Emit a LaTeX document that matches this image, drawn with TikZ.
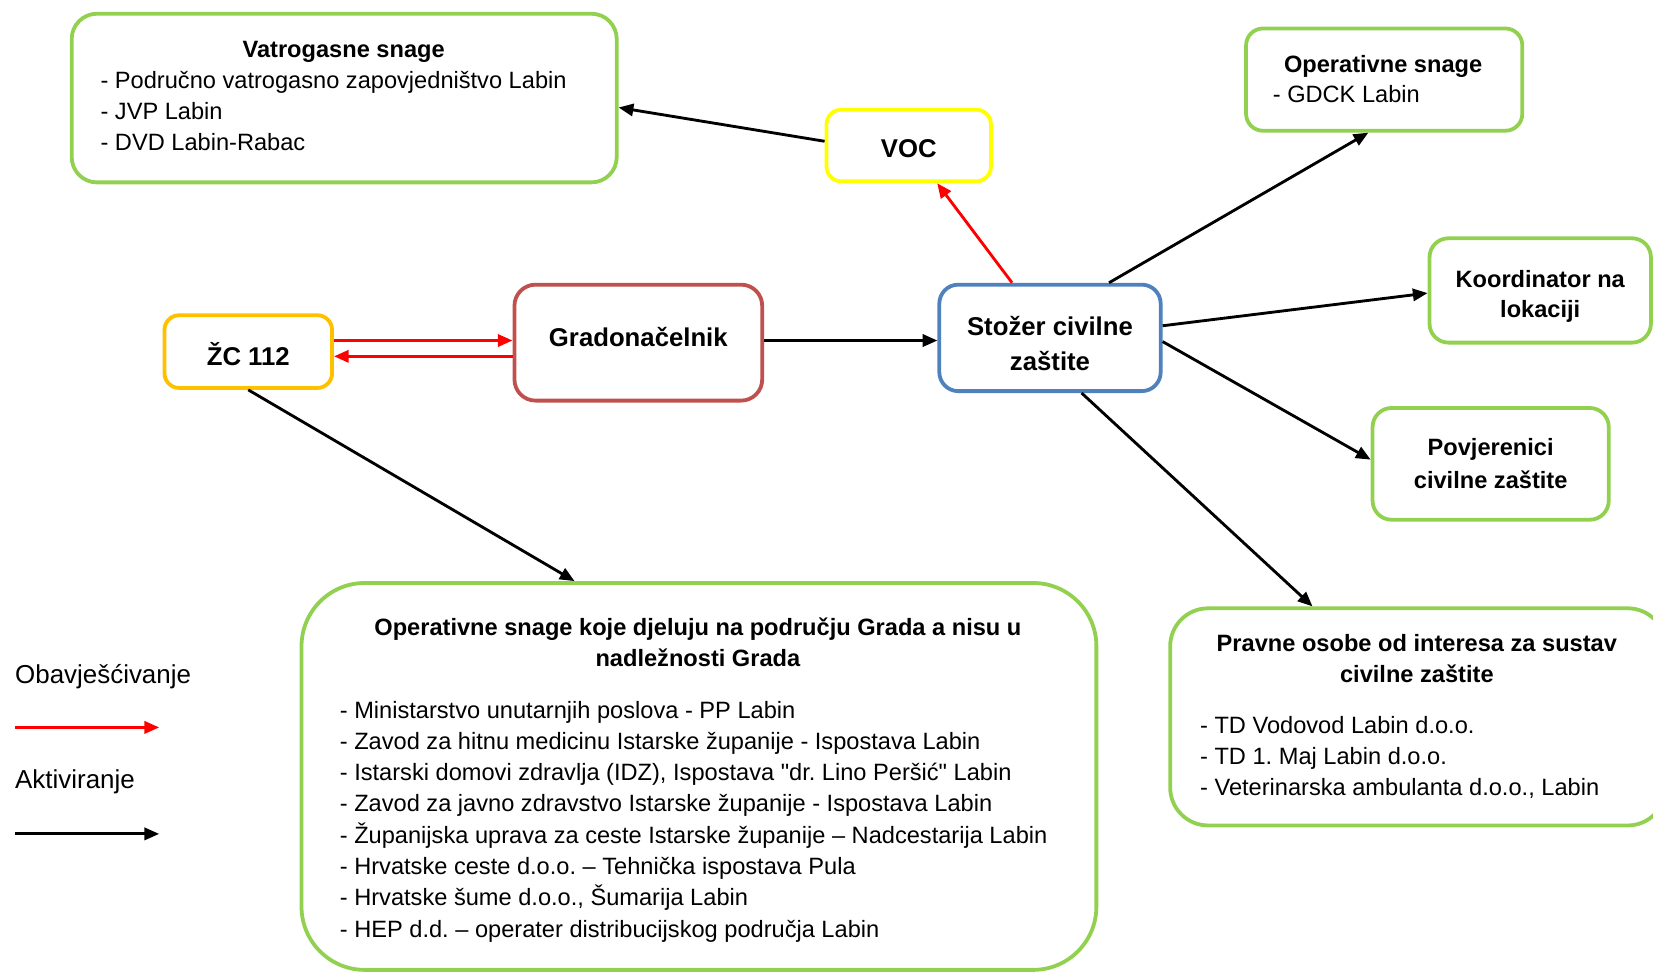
\documentclass[tikz,border=0pt]{standalone}
\usepackage{fontspec}
\setmainfont{Liberation Sans}[Ligatures=TeXOff]
\usetikzlibrary{arrows.meta}
\definecolor{cgreen}{HTML}{92D050}
\definecolor{cyellow}{HTML}{FFFF00}
\definecolor{corange}{HTML}{FFC000}
\definecolor{cdred}{HTML}{C0504D}
\definecolor{cblue}{HTML}{4F81BD}
\definecolor{cred}{HTML}{FF0000}
\tikzset{
  box/.style={draw, line width=1.8pt, rounded corners=7pt, fill=white, inner sep=0pt, align=center},
  bigfont/.style={inner sep=0pt, align=center, font=\fontsize{12.2}{16.5}\selectfont\bfseries},
  txt/.style={inner sep=0pt, font=\fontsize{11.2}{14.6}\selectfont},
  ttl/.style={inner sep=0pt, align=center, font=\fontsize{11.2}{14.5}\selectfont\bfseries},
  act/.style={line width=1.35pt, -{Triangle[length=7pt,width=5.8pt]}},
  notif/.style={act, color=cred}
}
\frenchspacing
\begin{document}
\frenchspacing
\begin{tikzpicture}[x=0.5pt,y=-0.5pt]
\useasboundingbox (0,0) rectangle (1568,923);
% boxes
\node[box, draw=cgreen, rounded corners=12pt, minimum width=258.5pt, minimum height=80pt] (vat) at (326.5,93) {};
\node[box, draw=cyellow, minimum width=78pt, minimum height=34pt] (voc) at (862,138) {};
\node[box, draw=cgreen, rounded corners=8pt, minimum width=131pt, minimum height=48.5pt] (ops) at (1313,75.5) {};
\node[box, draw=corange, minimum width=79.5pt, minimum height=34.5pt] (zc) at (235.5,333.5) {};
\node[box, draw=cdred, rounded corners=10pt, minimum width=117.5pt, minimum height=55pt] (grad) at (605.5,325) {};
\node[box, draw=cblue, rounded corners=9pt, minimum width=105pt, minimum height=50.5pt] (stozer) at (996,320.5) {};
\node[box, draw=cgreen, rounded corners=9pt, minimum width=105pt, minimum height=49.5pt] (koord) at (1461,275.5) {};
\node[box, draw=cgreen, rounded corners=9pt, minimum width=112pt, minimum height=53pt] (povj) at (1414,440) {};
\node[box, draw=cgreen, rounded corners=18pt, minimum width=235pt, minimum height=103pt] (pravne) at (1345,680) {};
\node[box, draw=cgreen, rounded corners=30pt, minimum width=377pt, minimum height=183.5pt] (bottom) at (663,736.5) {};
% labels of the small boxes
\node[bigfont] (vocT) at (862,141) {VOC};
\node[bigfont] (zcT) at (235.5,336) {ŽC 112};
\node[bigfont] (gradT) at (605.5,320) {Gradonačelnik};
\node[bigfont] (stozerT) at (996,326) {Stožer civilne\\zaštite};
\node[ttl] (koordT) at (1461,281) {Koordinator na\\lokaciji};
\node[ttl, font=\fontsize{11.2}{15.5}\selectfont\bfseries] (povjT) at (1414,440) {Povjerenici\\civilne zaštite};
% texts of the list boxes
\node[ttl, anchor=base] (vatT) at (326,55) {Vatrogasne snage};
\node[txt, align=left, anchor=base west] (vatL) at (95,142.4) {- Područno vatrogasno zapovjedništvo Labin\\- JVP Labin\\- DVD Labin-Rabac};
\node[ttl, anchor=base] (opsT) at (1312,69) {Operativne snage};
\node[txt, align=left, anchor=base west] (opsL) at (1207,97) {- GDCK Labin};
\node[ttl, anchor=base] (botT) at (662,632) {Operativne snage koje djeluju na području Grada a nisu u\\nadležnosti Grada};
\node[txt, align=left, anchor=base west, font=\fontsize{11.2}{14.85}\selectfont] (botL) at (322,889) {- Ministarstvo unutarnjih poslova - PP Labin\\
- Zavod za hitnu medicinu Istarske županije - Ispostava Labin\\
- Istarski domovi zdravlja (IDZ), Ispostava "dr. Lino Peršić" Labin\\
- Zavod za javno zdravstvo Istarske županije - Ispostava Labin\\
- Županijska uprava za ceste Istarske županije – Nadcestarija Labin\\
- Hrvatske ceste d.o.o. – Tehnička ispostava Pula\\
- Hrvatske šume d.o.o., Šumarija Labin\\
- HEP d.d. – operater distribucijskog područja Labin};
\node[ttl, anchor=base] (pravT) at (1344,647) {Pravne osobe od interesa za sustav\\civilne zaštite};
\node[txt, align=left, anchor=base west, font=\fontsize{11.2}{14.75}\selectfont] (pravL) at (1138,755) {- TD Vodovod Labin d.o.o.\\- TD 1. Maj Labin d.o.o.\\- Veterinarska ambulanta d.o.o., Labin};
% legend
\node[inner sep=0pt, anchor=base west, font=\fontsize{12.3}{14}\selectfont] (lgA) at (14,648) {Obavješćivanje};
\node[inner sep=0pt, anchor=base west, font=\fontsize{12.3}{14}\selectfont] (lgB) at (14,748) {Aktiviranje};
\coordinate (lr1) at (14,690);
\coordinate (lr2) at (151,690);
\coordinate (lb1) at (14,791);
\coordinate (lb2) at (151,791);
\draw[notif] (lr1) -- (lr2);
\draw[act] (lb1) -- (lb2);
% connectors
\draw[act] ([yshift=2pt]voc.west) -- ([yshift=-4.5pt]vat.east);
\draw[notif] ([xshift=-18pt]stozer.north) -- ([xshift=13.5pt]voc.south);
\draw[notif] ([yshift=5.25pt]zc.east) -- ([yshift=1pt]grad.west);
\draw[notif] ([yshift=-6.5pt]grad.west) -- ([yshift=-2.25pt]zc.east);
\draw[act] ([yshift=1pt]grad.east) -- ([yshift=-1.25pt]stozer.west);
\draw[act] ([xshift=28pt]stozer.north) -- ([xshift=-7.5pt]ops.south);
\draw[act] ([yshift=5.75pt]stozer.east) -- ([yshift=-1.25pt]koord.west);
\draw[act] ([yshift=-1.75pt]stozer.east) -- ([yshift=2pt]povj.west);
\draw[act] ([xshift=15pt]stozer.south) -- ([xshift=-50pt]pravne.north);
\draw[act] (zc.south) -- ([xshift=-59pt]bottom.north);
\end{tikzpicture}
\end{document}
